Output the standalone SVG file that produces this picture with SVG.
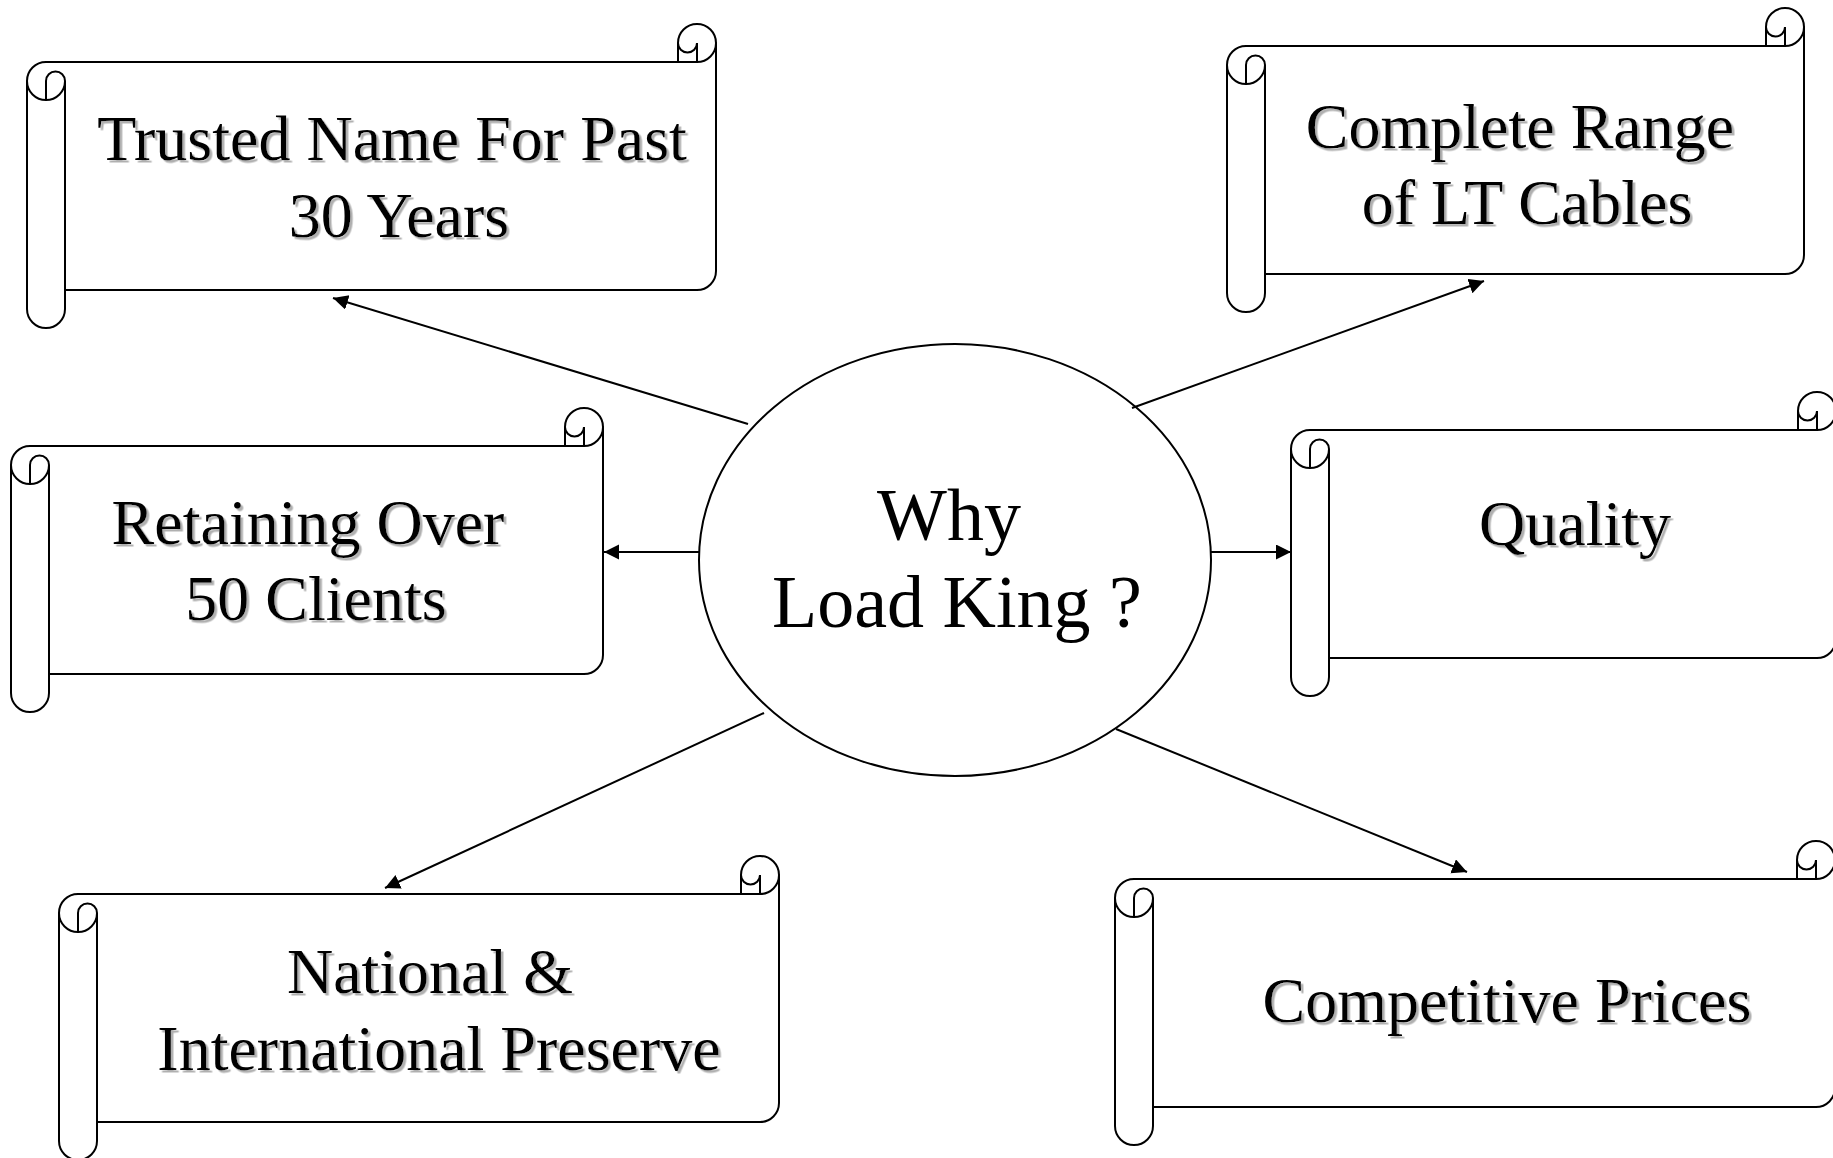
<svg xmlns="http://www.w3.org/2000/svg" width="1833" height="1158" viewBox="0 0 1833 1158">
<style>
.sc{fill:#fff;stroke:#000;stroke-width:2;stroke-linejoin:round}
.dt{fill:none;stroke:#000;stroke-width:2}
.lbl{font-family:"Liberation Serif","Times New Roman",serif;font-size:64px;fill:#000;text-anchor:middle;filter:url(#shadow)}
.ctr{font-family:"Liberation Serif","Times New Roman",serif;font-size:74px;fill:#000;text-anchor:middle}
.cn{fill:none;stroke:#000;stroke-width:2;marker-end:url(#ah)}
</style>
<defs>
<filter id="shadow" x="-5%" y="-20%" width="110%" height="140%">
<feDropShadow dx="2.5" dy="2.5" stdDeviation="0" flood-color="#b0b0b0" flood-opacity="1"/>
</filter>
<marker id="ah" markerUnits="userSpaceOnUse" markerWidth="16" markerHeight="16" refX="15" refY="7.5" orient="auto">
<path d="M0,0 L15,7.5 L0,15 Z" fill="#000"/>
</marker>
</defs>
<rect width="1833" height="1158" fill="#fff"/>

<g id="node-trusted">
<path class="sc" d="M27,81 A19,19 0 0 1 46,62 L697,62 A19,19 0 0 0 716,43 L716,271 A19,19 0 0 1 697,290 L65,290 L65,309 A19,19 0 0 1 27,309 Z"/>
<path class="dt" d="M678,43 A19,19 0 0 1 716,43 M678,43 L678,62 M697,43 L697,62 M697,43 A9.5,9.5 0 0 1 678,43 M65,81 L65,290 M46,100 L46,81 A9.5,9.5 0 0 1 65,81 A19,19 0 0 1 27,81"/>
<text class="lbl" x="392" y="160">Trusted Name For Past</text>
<text class="lbl" x="399" y="237">30 Years</text>
</g>

<g id="node-range">
<path class="sc" d="M1227,65 A19,19 0 0 1 1246,46 L1785,46 A19,19 0 0 0 1804,27 L1804,255 A19,19 0 0 1 1785,274 L1265,274 L1265,293 A19,19 0 0 1 1227,293 Z"/>
<path class="dt" d="M1766,27 A19,19 0 0 1 1804,27 M1766,27 L1766,46 M1785,27 L1785,46 M1785,27 A9.5,9.5 0 0 1 1766,27 M1265,65 L1265,274 M1246,84 L1246,65 A9.5,9.5 0 0 1 1265,65 A19,19 0 0 1 1227,65"/>
<text class="lbl" x="1520" y="148">Complete Range</text>
<text class="lbl" x="1527" y="224">of LT Cables</text>
</g>

<g id="node-retaining">
<path class="sc" d="M11,465 A19,19 0 0 1 30,446 L584,446 A19,19 0 0 0 603,427 L603,655 A19,19 0 0 1 584,674 L49,674 L49,693 A19,19 0 0 1 11,693 Z"/>
<path class="dt" d="M565,427 A19,19 0 0 1 603,427 M565,427 L565,446 M584,427 L584,446 M584,427 A9.5,9.5 0 0 1 565,427 M49,465 L49,674 M30,484 L30,465 A9.5,9.5 0 0 1 49,465 A19,19 0 0 1 11,465"/>
<text class="lbl" x="308" y="544">Retaining Over</text>
<text class="lbl" x="316" y="620">50 Clients</text>
</g>

<g id="node-quality">
<path class="sc" d="M1291,449 A19,19 0 0 1 1310,430 L1817,430 A19,19 0 0 0 1836,411 L1836,639 A19,19 0 0 1 1817,658 L1329,658 L1329,677 A19,19 0 0 1 1291,677 Z"/>
<path class="dt" d="M1798,411 A19,19 0 0 1 1836,411 M1798,411 L1798,430 M1817,411 L1817,430 M1817,411 A9.5,9.5 0 0 1 1798,411 M1329,449 L1329,658 M1310,468 L1310,449 A9.5,9.5 0 0 1 1329,449 A19,19 0 0 1 1291,449"/>
<text class="lbl" x="1575" y="545">Quality</text>
</g>

<g id="node-national">
<path class="sc" d="M59,913 A19,19 0 0 1 78,894 L760,894 A19,19 0 0 0 779,875 L779,1103 A19,19 0 0 1 760,1122 L97,1122 L97,1141 A19,19 0 0 1 59,1141 Z"/>
<path class="dt" d="M741,875 A19,19 0 0 1 779,875 M741,875 L741,894 M760,875 L760,894 M760,875 A9.5,9.5 0 0 1 741,875 M97,913 L97,1122 M78,932 L78,913 A9.5,9.5 0 0 1 97,913 A19,19 0 0 1 59,913"/>
<text class="lbl" x="430" y="993">National &amp;</text>
<text class="lbl" x="439" y="1070">International Preserve</text>
</g>

<g id="node-prices">
<path class="sc" d="M1115,898 A19,19 0 0 1 1134,879 L1816,879 A19,19 0 0 0 1835,860 L1835,1088 A19,19 0 0 1 1816,1107 L1153,1107 L1153,1126 A19,19 0 0 1 1115,1126 Z"/>
<path class="dt" d="M1797,860 A19,19 0 0 1 1835,860 M1797,860 L1797,879 M1816,860 L1816,879 M1816,860 A9.5,9.5 0 0 1 1797,860 M1153,898 L1153,1107 M1134,917 L1134,898 A9.5,9.5 0 0 1 1153,898 A19,19 0 0 1 1115,898"/>
<text class="lbl" x="1507" y="1022">Competitive Prices</text>
</g>

<g id="node-center">
<ellipse cx="955" cy="560" rx="256" ry="216" fill="#fff" stroke="#000" stroke-width="2"/>
<text class="ctr" x="949" y="540">Why</text>
<text class="ctr" x="957" y="627">Load King ?</text>
</g>

<g id="connectors">
<path class="cn" d="M748,424 L333,298"/>
<path class="cn" d="M1132,408 L1484,281"/>
<path class="cn" d="M699,552 L604,552"/>
<path class="cn" d="M1211,552 L1291,552"/>
<path class="cn" d="M764,713 L385,888"/>
<path class="cn" d="M1116,729 L1467,872"/>
</g>
</svg>
